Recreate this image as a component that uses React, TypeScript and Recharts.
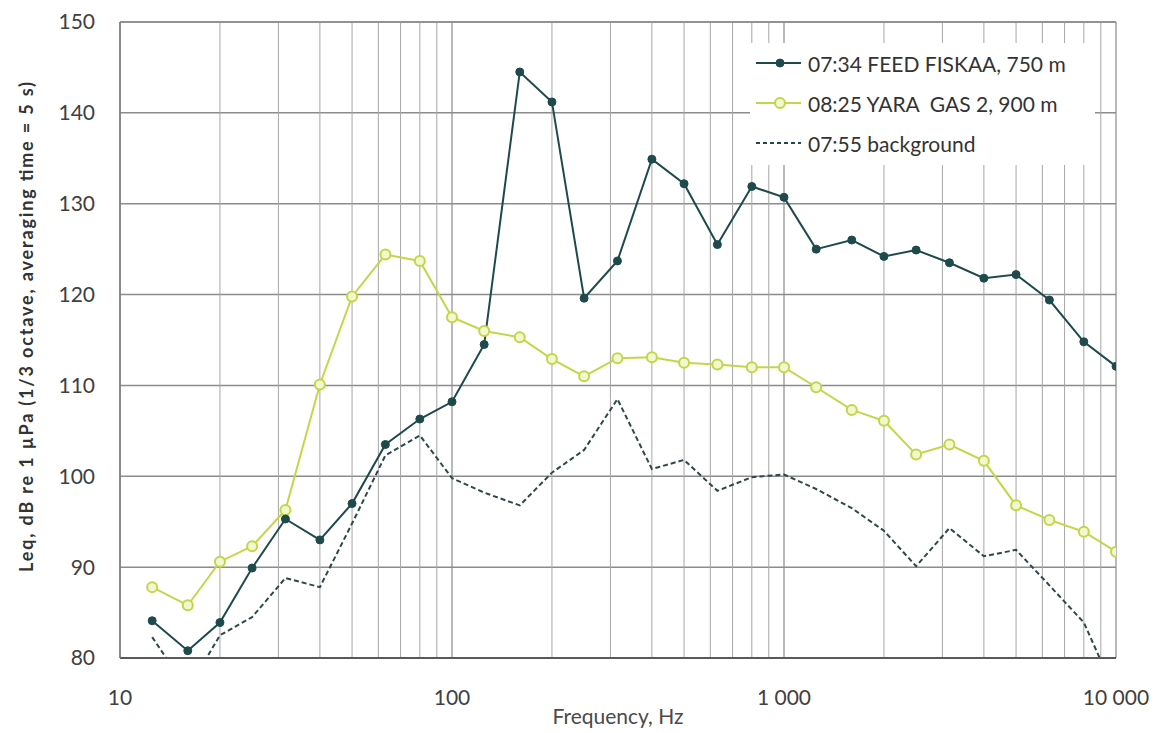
import { LineChart, Line, XAxis, YAxis, CartesianGrid, ReferenceLine, Legend } from "recharts";

// 1/3 octave band centre frequencies, Hz
const FREQS = [
  12.5, 16, 20, 25, 31.5, 40, 50, 63, 80, 100, 125, 160, 200, 250, 315, 400, 500, 630, 800, 1000,
  1250, 1600, 2000, 2500, 3150, 4000, 5000, 6300, 8000, 10000,
];

const FEED_FISKAA = [
  84.1, 80.8, 83.9, 89.9, 95.3, 93.0, 97.0, 103.5, 106.3, 108.2, 114.5, 144.5, 141.2, 119.6, 123.7, 134.9, 132.2, 125.5, 131.9, 130.7,
  125.0, 126.0, 124.2, 124.9, 123.5, 121.8, 122.2, 119.4, 114.8, 112.1,
];

const YARA_GAS = [
  87.8, 85.8, 90.6, 92.3, 96.3, 110.1, 119.8, 124.4, 123.7, 117.5, 116.0, 115.3, 112.9, 111.0, 113.0, 113.1, 112.5, 112.3, 112.0, 112.0,
  109.8, 107.3, 106.1, 102.4, 103.5, 101.7, 96.8, 95.2, 93.9, 91.7,
];

const BACKGROUND = [
  82.3, 76.5, 82.5, 84.5, 88.8, 87.8, 94.8, 102.3, 104.5, 99.8, 98.2, 96.8, 100.4, 102.9, 108.5, 100.8, 101.8, 98.4, 99.9, 100.2,
  98.6, 96.5, 94.0, 90.1, 94.3, 91.2, 91.9, 88.0, 83.9, 76.0,
];

const SERIES_NAMES = ["07:34 FEED FISKAA, 750 m", "08:25 YARA  GAS 2, 900 m", "07:55 background"];

const X_TICKS = [10, 100, 1000, 10000];
const Y_TICKS = [80, 90, 100, 110, 120, 130, 140, 150];
const MINOR_X = [20, 30, 40, 50, 60, 70, 80, 90, 200, 300, 400, 500, 600, 700, 800, 900, 2000, 3000, 4000, 5000, 6000, 7000, 8000, 9000];

const DARK = "#1e4a4c";
const LIME = "#c3d648";
const FONT = "Lato, 'Open Sans', sans-serif";

const rows = FREQS.map((f, i) => ({
  freq: f,
  feed: FEED_FISKAA[i],
  yara: YARA_GAS[i],
  bg: BACKGROUND[i],
}));

const fmtFreq = (v: number) => (v >= 1000 ? String(v).replace(/(\d)(?=(\d{3})+$)/g, "$1 ") : String(v));

function YLabel({ viewBox }: any) {
  const cy = viewBox ? viewBox.y + viewBox.height / 2 - 13 : 327;
  return (
    <text
      x={0}
      y={0}
      transform={`translate(26, ${cy}) rotate(-90)`}
      textAnchor="middle"
      dominantBaseline="central"
      fontFamily={FONT}
      fontWeight={700}
      fontSize={18}
      textLength={490}
      lengthAdjust="spacing"
      fill="#333"
    >
      Leq, dB re 1 µPa (1/3 octave, averaging time = 5 s)
    </text>
  );
}

function LegendBox() {
  const items = [
    { name: SERIES_NAMES[0], color: DARK, kind: "dot" },
    { name: SERIES_NAMES[1], color: LIME, kind: "ring" },
    { name: SERIES_NAMES[2], color: DARK, kind: "dash" },
  ];
  return (
    <div style={{ background: "#fff", width: 345, height: 122, fontFamily: FONT, fontSize: 21, color: "#333" }}>
      {items.map((it, i) => (
        <div key={i} style={{ display: "flex", alignItems: "center", height: 40 }}>
          <svg width={52} height={20} style={{ marginLeft: 4 }}>
            <line
              x1={2}
              y1={10}
              x2={47}
              y2={10}
              stroke={it.color}
              strokeWidth={2}
              strokeDasharray={it.kind === "dash" ? "4 3" : undefined}
            />
            {it.kind === "dot" && <circle cx={26} cy={10} r={4} fill={DARK} stroke={DARK} />}
            {it.kind === "ring" && <circle cx={26} cy={10} r={5} fill="#f3f7cf" stroke={LIME} strokeWidth={2} />}
          </svg>
          <span style={{ marginLeft: 2, whiteSpace: "pre" }}>{it.name}</span>
        </div>
      ))}
    </div>
  );
}

export default function App() {
  return (
    <div style={{ position: "absolute", left: 0, top: 0, width: 1159, height: 733, background: "#fff" }}>
      <LineChart width={1159} height={733} data={rows} margin={{ top: 22, right: 43, bottom: 0, left: 0 }}>
        <CartesianGrid stroke="#8c8c8c" strokeWidth={1.5} vertical={false} />
        {MINOR_X.map((v) => (
          <ReferenceLine key={v} x={v} stroke="#a6a6a6" strokeWidth={1} />
        ))}
        {X_TICKS.map((v) => (
          <ReferenceLine key={"t" + v} x={v} stroke="#8c8c8c" strokeWidth={1.2} />
        ))}
        <ReferenceLine y={150} stroke="#8c8c8c" strokeWidth={1.5} />
        <XAxis
          dataKey="freq"
          type="number"
          scale="log"
          domain={[10, 10000]}
          ticks={X_TICKS}
          allowDataOverflow
          tickFormatter={fmtFreq}
          height={75}
          tickLine={false}
          tickSize={0}
          tickMargin={32}
          axisLine={{ stroke: "#595959", strokeWidth: 2 }}
          tick={{ fill: "#404040", fontSize: 21, fontFamily: FONT }}
          label={{ value: "Frequency, Hz", position: "insideBottom", offset: 9, fill: "#4a4a4a", fontSize: 21, fontFamily: FONT }}
        />
        <YAxis
          type="number"
          domain={[80, 150]}
          ticks={Y_TICKS}
          allowDataOverflow
          width={120}
          tickLine={false}
          tickSize={0}
          tickMargin={25}
          axisLine={{ stroke: "#7a7a7a", strokeWidth: 1.5 }}
          tick={{ fill: "#404040", fontSize: 21, fontFamily: FONT }}
          label={<YLabel />}
        />
        <Legend
          verticalAlign="middle"
          align="center"
          layout="vertical"
          content={() => <LegendBox />}
          wrapperStyle={{ left: 750, top: 43, width: 345, height: 122 }}
        />
        <Line
          dataKey="bg"
          name={SERIES_NAMES[2]}
          stroke="#2e4848"
          strokeWidth={2}
          strokeDasharray="5 3"
          dot={false}
          isAnimationActive={false}
        />
        <Line
          dataKey="yara"
          name={SERIES_NAMES[1]}
          stroke={LIME}
          strokeWidth={2}
          dot={{ r: 5, fill: "#f3f7cf", stroke: LIME, strokeWidth: 2 }}
          isAnimationActive={false}
        />
        <Line
          dataKey="feed"
          name={SERIES_NAMES[0]}
          stroke={DARK}
          strokeWidth={2}
          dot={{ r: 4, fill: DARK, stroke: DARK, strokeWidth: 1 }}
          isAnimationActive={false}
        />
      </LineChart>
    </div>
  );
}
